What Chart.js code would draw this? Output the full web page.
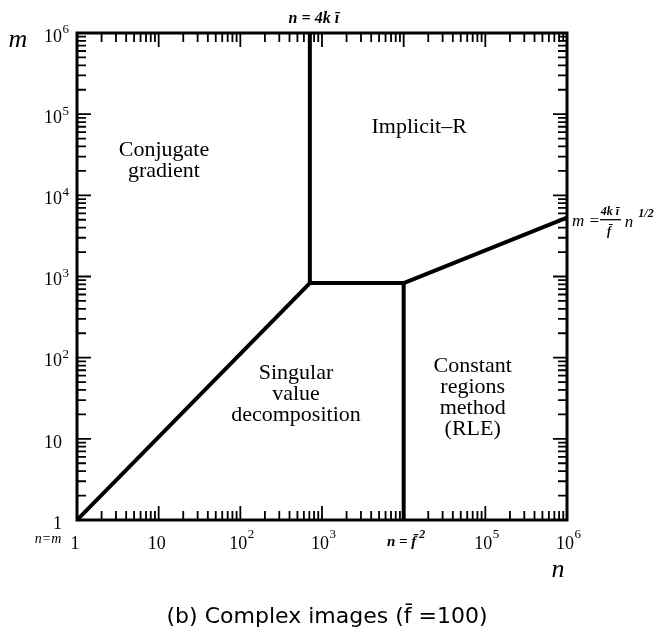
<!DOCTYPE html>
<html>
<head>
<meta charset="utf-8">
<script src="https://cdn.jsdelivr.net/npm/chart.js@4.4.1/dist/chart.umd.min.js"></script>
<style>
  html, body { margin: 0; padding: 0; background: #fff; }
  #wrap { width: 660px; height: 633px; }
</style>
</head>
<body>
<div id="wrap"><canvas id="regionChart" width="660" height="633"></canvas></div>
<script>
// ===========================
// Data
// ===========================

const decadeValues = [1, 10, 100, 1000, 10000, 100000, 1000000];
const xTickLabels = ['1', '10', '10', '10', 'n = f̄', '10', '10'];
const xTickExponents = ['', '', '2', '3', '2', '5', '6'];
const yTickLabels = ['1', '10', '10', '10', '10', '10', '10'];
const yTickExponents = ['', '', '2', '3', '4', '5', '6'];

// boundary segments (n, m)
const diagonalN = [1, 710];
const diagonalM = [1, 830];
const plateauN = [710, 10000];
const plateauM = [830, 830];
const upperWallN = [710, 710];
const upperWallM = [830, 1000000];
const lowerWallN = [10000, 10000];
const lowerWallM = [1, 830];
const sqrtLineN = [10000, 1000000];
const sqrtLineM = [830, 5300];

const regionNames = [
    { lines: ['Conjugate', 'gradient'], n: 11.6, m: 27000 },
    { lines: ['Implicit\u2013R'], n: 15500, m: 69000 },
    { lines: ['Singular', 'value', 'decomposition'], n: 480, m: 35 },
    { lines: ['Constant', 'regions', 'method', '(RLE)'], n: 70000, m: 32 }
];

function toPoints(ns, ms) {
    return ns.map((n, i) => ({ x: n, y: ms[i] }));
}

function segment(ns, ms) {
    return {
        data: toPoints(ns, ms),
        borderColor: '#000',
        borderWidth: 4,
        pointRadius: 0,
        showLine: true,
        fill: false,
        tension: 0
    };
}

// ===========================
// Plugins
// ===========================

const SERIF = '"Liberation Serif", "DejaVu Serif", serif';
const TICK_LEN = 8;      // Chart.js still reserves grid.tickLength next to the labels
const X_PAD = 5;
const Y_PAD = 7;
const X_SHIFT = -2;

const frameTicks = {
    id: 'frameTicks',
    afterDatasetsDraw(chart) {
        const { ctx, chartArea: a, scales: { x, y } } = chart;
        ctx.save();
        ctx.strokeStyle = '#000';
        ctx.lineWidth = 3;
        ctx.strokeRect(a.left, a.top, a.right - a.left, a.bottom - a.top);
        ctx.lineWidth = 1.8;
        for (let k = 0; k < 6; k++) {
            for (let j = 2; j <= 10; j++) {
                const v = Math.pow(10, k) * j;
                const len = (j === 10) ? 14 : 9;
                const px = x.getPixelForValue(v);
                const py = y.getPixelForValue(v);
                ctx.beginPath();
                ctx.moveTo(px, a.bottom); ctx.lineTo(px, a.bottom - len);
                ctx.moveTo(px, a.top); ctx.lineTo(px, a.top + len);
                ctx.moveTo(a.left, py); ctx.lineTo(a.left + len, py);
                ctx.moveTo(a.right, py); ctx.lineTo(a.right - len, py);
                ctx.stroke();
            }
        }
        ctx.restore();
    }
};

const textLayer = {
    id: 'textLayer',
    afterDraw(chart) {
        const { ctx, chartArea: a, scales: { x, y } } = chart;
        ctx.save();
        ctx.fillStyle = '#000';
        ctx.textBaseline = 'middle';

        // tick exponents
        ctx.textAlign = 'left';
        decadeValues.forEach((v, i) => {
            if (xTickExponents[i]) {
                const italic = i === 4;
                ctx.font = italic ? 'bold italic 15px ' + SERIF : '18px ' + SERIF;
                const w = ctx.measureText(xTickLabels[i]).width;
                ctx.font = (italic ? 'bold italic 12px ' : '13px ') + SERIF;
                ctx.fillText(xTickExponents[i], x.getPixelForValue(v) + X_SHIFT + w / 2 + (italic ? 3 : 0.5),
                    a.bottom + TICK_LEN + X_PAD + 2);
            }
            if (yTickExponents[i]) {
                ctx.font = '13px ' + SERIF;
                ctx.fillText(yTickExponents[i], a.left - TICK_LEN - Y_PAD + 0.5, y.getPixelForValue(v) - 3);
            }
        });

        // region labels
        ctx.textAlign = 'center';
        ctx.font = '22px ' + SERIF;
        regionNames.forEach(r => {
            const cx = x.getPixelForValue(r.n);
            const cy = y.getPixelForValue(r.m);
            const top = cy - (r.lines.length - 1) * 10.5;
            r.lines.forEach((t, i) => ctx.fillText(t, cx, top + i * 21));
        });

        // axis titles
        ctx.font = 'italic 26px ' + SERIF;
        ctx.fillText('m', 18, 40);
        ctx.fillText('n', 558, 570);

        // boundary notes
        ctx.font = 'bold italic 16px ' + SERIF;
        ctx.fillText('n = 4k ī', x.getPixelForValue(upperWallN[0]) + 4, 19);
        ctx.font = 'italic 14px ' + SERIF;
        ctx.fillText('n=m', 48, 539);

        // m = (4k ī / f̄) n^1/2
        const fy = y.getPixelForValue(sqrtLineM[1]) + 4;
        ctx.font = 'italic 17px ' + SERIF;
        ctx.textAlign = 'left';
        ctx.fillText('m =', 572, fy);
        ctx.font = 'bold italic 12px ' + SERIF;
        ctx.textAlign = 'center';
        ctx.fillText('4k ī', 610, fy - 10);
        ctx.fillText('f̄', 609, fy + 10);
        ctx.lineWidth = 1.3;
        ctx.beginPath();
        ctx.moveTo(600, fy - 2); ctx.lineTo(621, fy - 2);
        ctx.stroke();
        ctx.font = 'italic 17px ' + SERIF;
        ctx.fillText('n', 629, fy + 1);
        ctx.font = 'bold italic 12px ' + SERIF;
        ctx.fillText('1/2', 646, fy - 8);

        // caption
        ctx.font = '22px "DejaVu Sans", "Open Sans", sans-serif';
        ctx.fillText('(b) Complex images (f̄ =100)', 327, 617);
        ctx.restore();
    }
};

// ===========================
// Chart
// ===========================

function initRegionChart() {
    const ctx = document.getElementById('regionChart');
    if (!ctx) return;

    new Chart(ctx, {
        type: 'scatter',
        data: {
            datasets: [
                segment(diagonalN, diagonalM),
                segment(plateauN, plateauM),
                segment(upperWallN, upperWallM),
                segment(lowerWallN, lowerWallM),
                segment(sqrtLineN, sqrtLineM)
            ]
        },
        options: {
            responsive: false,
            animation: false,
            devicePixelRatio: 1,
            layout: {
                padding: { left: 0, right: 93, top: 33, bottom: 0 }
            },
            plugins: {
                legend: { display: false },
                tooltip: { enabled: false }
            },
            scales: {
                x: {
                    type: 'logarithmic',
                    min: 1,
                    max: 1000000,
                    afterBuildTicks: function(scale) {
                        scale.ticks = decadeValues.map(v => ({ value: v }));
                    },
                    afterFit: function(scale) {
                        scale.height = 113;
                    },
                    grid: { display: false, tickLength: TICK_LEN },
                    border: { display: false },
                    ticks: {
                        color: '#000',
                        padding: X_PAD,
                        maxRotation: 0,
                        autoSkip: false,
                        labelOffset: X_SHIFT,
                        font: function(context) {
                            return context.index === 4
                                ? { family: SERIF, size: 15, style: 'italic', weight: 'bold' }
                                : { family: SERIF, size: 18 };
                        },
                        callback: function(value, index) {
                            return xTickLabels[index];
                        }
                    }
                },
                y: {
                    type: 'logarithmic',
                    min: 1,
                    max: 1000000,
                    afterBuildTicks: function(scale) {
                        scale.ticks = decadeValues.map(v => ({ value: v }));
                    },
                    afterFit: function(scale) {
                        scale.width = 77;
                    },
                    grid: { display: false, tickLength: TICK_LEN },
                    border: { display: false },
                    ticks: {
                        color: '#000',
                        padding: Y_PAD,
                        labelOffset: 4,
                        autoSkip: false,
                        font: { family: SERIF, size: 18 },
                        callback: function(value, index) {
                            return yTickLabels[index];
                        }
                    }
                }
            }
        },
        plugins: [frameTicks, textLayer]
    });
}

initRegionChart();
</script>
</body>
</html>
